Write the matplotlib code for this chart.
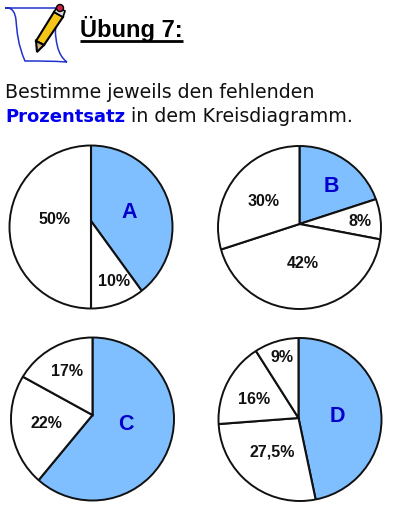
import matplotlib
matplotlib.use('Agg')
import matplotlib.pyplot as plt
from matplotlib.patches import Circle, Polygon, PathPatch
from matplotlib.path import Path

W, H = 394, 507
BLUE = '#80bfff'
TEXT_BLUE = '#0000cc'

# Anteile im Uhrzeigersinn ab 12 Uhr, wie im Bild gezeichnet
values_a = [40, 10, 50]
values_b = [20, 8, 42, 30]
values_c = [61, 22, 17]
values_d = [46.7, 27.1, 17.2, 9]
colors_a = [BLUE, 'white', 'white']
colors_b = [BLUE, 'white', 'white', 'white']
colors_c = [BLUE, 'white', 'white']
colors_d = [BLUE, 'white', 'white', 'white']
names = ['A', 'B', 'C', 'D']

# Kreis (x, y), Spitze der Sektoren (x, y) in Pixeln von oben
circles = [(91, 227), (299.5, 227.5), (92.5, 419), (300, 419.5)]
vertices = [(91, 221), (299.5, 224), (92.5, 415), (298.5, 418)]
RADIUS = 81.5

labels = [
    [('50%', 55, 220), ('10%', 114.5, 281)],
    [('30%', 264, 202), ('8%', 360, 222), ('42%', 303, 263)],
    [('17%', 67, 371), ('22%', 46, 424)],
    [('9%', 282, 358), ('16%', 254, 399), ('27,5%', 272, 452)],
]
letters = [(129, 212), (331, 186), (125.5, 425), (337, 416)]

plt.rcParams['font.family'] = ['DejaVu Sans']

fig = plt.figure(figsize=(W / 100, H / 100), dpi=100)
ax = fig.add_axes([0, 0, 1, 1])


def py(y):
    return H - y


all_values = [values_a, values_b, values_c, values_d]
all_colors = [colors_a, colors_b, colors_c, colors_d]
for i in range(4):
    cx, cy = circles[i]
    vx, vy = vertices[i]
    wedges, _ = ax.pie(all_values[i], colors=all_colors[i], startangle=90, counterclock=False,
                       center=(vx, py(vy)), radius=RADIUS + 12,
                       wedgeprops={'edgecolor': '#111111', 'linewidth': 1.5})
    clip = Circle((cx, py(cy)), RADIUS, transform=ax.transData)
    for w in wedges:
        w.set_clip_on(True)  # pie schaltet das sonst ab
        w.set_clip_path(clip)
    ax.add_patch(Circle((cx, py(cy)), RADIUS, fill=False, edgecolor='#111111', linewidth=1.4))
    for txt, x, y in labels[i]:
        ax.text(x, py(y), txt, fontsize=11.5, fontweight='bold', family='Liberation Sans',
                ha='center', va='center', color='#111111')
    lx, ly = letters[i]
    ax.text(lx, py(ly), names[i], fontsize=15.5, fontweight='bold', family='Liberation Sans',
            ha='center', va='center', color=TEXT_BLUE)

ax.set_xlim(0, W)
ax.set_ylim(0, H)
ax.set_aspect('equal')
ax.axis('off')

# Überschrift
ax.text(80, py(37), 'Übung 7:', fontsize=17, fontweight='bold', family='Liberation Sans',
        va='baseline', ha='left', color='black')
ax.plot([80, 183], [py(41), py(41)], color='black', linewidth=2, solid_capstyle='butt')

# Aufgabentext
ax.text(5, py(98), 'Bestimme jeweils den fehlenden', fontsize=13.7, va='baseline', color='#111111')
ax.text(5, py(122), 'Prozentsatz', fontsize=13, fontweight='bold', va='baseline', color='#0000ee')
ax.text(131, py(122), 'in dem Kreisdiagramm.', fontsize=13.7, va='baseline', color='#111111')

# Symbol: Blatt mit Bleistift
MO, CU = Path.MOVETO, Path.CURVE4
sheet = Path([(5, py(8)), (12, py(7)), (15, py(12)), (16, py(20)),
              (17, py(32)), (18, py(45)), (25, py(61)),
              (40, py(61)), (52, py(61)), (67, py(62)),
              (60, py(57)), (57, py(48)), (56, py(38)),
              (54, py(28)), (58, py(18)), (56, py(8)),
              (40, py(8)), (20, py(8)), (5, py(8))],
             [MO] + [CU] * 18)
ax.add_patch(PathPatch(sheet, facecolor='white', edgecolor='#2233cc', linewidth=1.1))
ax.add_patch(Polygon([(36, py(41)), (54, py(12)), (63, py(17)), (44, py(45))], facecolor='#f5c518', edgecolor='black', linewidth=1.5))
ax.add_patch(Polygon([(36, py(41)), (44, py(45)), (37, py(52))], facecolor='#d8b080', edgecolor='black', linewidth=1.5))
ax.add_patch(Polygon([(54, py(12)), (57, py(7)), (65, py(11)), (63, py(17))], facecolor='#dddddd', edgecolor='black', linewidth=1.2))
ax.add_patch(Circle((60, py(8)), 3.5, facecolor='#cc2244', edgecolor='black', linewidth=1.0))

fig.savefig('out.png', dpi=100)
